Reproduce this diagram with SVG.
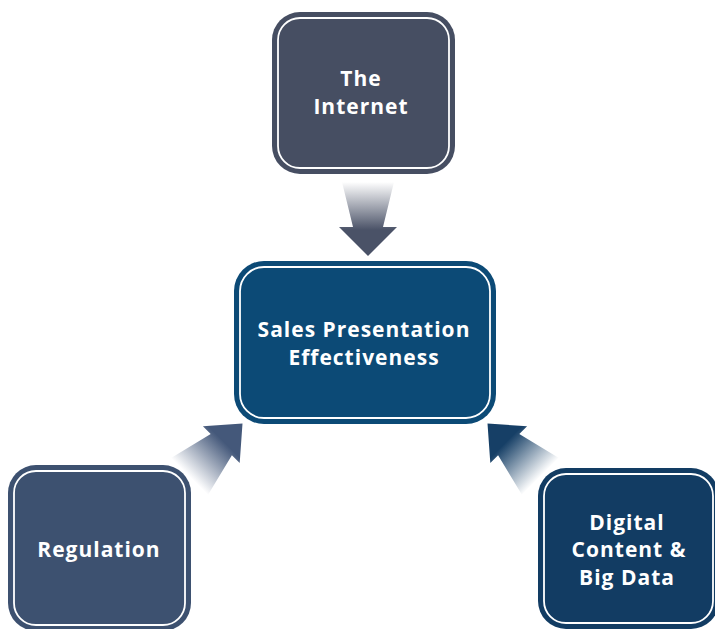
<svg xmlns="http://www.w3.org/2000/svg" width="715" height="629" viewBox="0 0 715 629">
  <style>
    .ring { fill: none; stroke: #ffffff; stroke-width: 1.8; }
    .label { font-family: "Open Sans", "Noto Sans", "Liberation Sans", sans-serif; font-weight: 700; font-size: 21px; letter-spacing: 1px; fill: #ffffff; text-anchor: middle; }
  </style>
  <defs>
    <linearGradient id="gradDown" gradientUnits="userSpaceOnUse" x1="368" y1="182" x2="368" y2="230">
      <stop offset="0" stop-color="#ffffff"/>
      <stop offset="1" stop-color="#4a5267"/>
    </linearGradient>
    <linearGradient id="gradUpRight" gradientUnits="userSpaceOnUse" x1="189.5" y1="476.5" x2="224" y2="442">
      <stop offset="0" stop-color="#ffffff"/>
      <stop offset="1" stop-color="#44587a"/>
    </linearGradient>
    <linearGradient id="gradUpLeft" gradientUnits="userSpaceOnUse" x1="540.5" y1="476.5" x2="506" y2="442">
      <stop offset="0" stop-color="#ffffff"/>
      <stop offset="1" stop-color="#163f66"/>
    </linearGradient>
  </defs>

  <g id="connectors">
    <polygon points="342,182 394,182 383,227 397,227 368,256 339,227 353,227" fill="url(#gradDown)"/>
    <polygon points="171.1,458.1 210.7,434.1 202.9,426.3 242.5,423.5 239.7,463.1 231.9,455.3 207.9,494.9" fill="url(#gradUpRight)"/>
    <polygon points="558.9,458.1 519.3,434.1 527.1,426.3 487.5,423.5 490.3,463.1 498.1,455.3 522.1,494.9" fill="url(#gradUpLeft)"/>
  </g>

  <g id="node-internet">
    <rect x="272" y="12" width="183" height="162" rx="28" fill="#464e62"/>
    <rect x="278" y="18" width="171" height="150" rx="22" class="ring"/>
    <text class="label" x="361" y="86">The</text>
    <text class="label" x="361" y="114">Internet</text>
  </g>

  <g id="node-sales">
    <rect x="234" y="261" width="262" height="163" rx="30" fill="#0c4a76"/>
    <rect x="240" y="267" width="250" height="151" rx="24" class="ring"/>
    <text class="label" x="364" y="337">Sales Presentation</text>
    <text class="label" x="364" y="365">Effectiveness</text>
  </g>

  <g id="node-regulation">
    <rect x="8" y="465" width="183" height="166" rx="28" fill="#3d5170"/>
    <rect x="14" y="471" width="171" height="154" rx="22" class="ring"/>
    <text class="label" x="99" y="557">Regulation</text>
  </g>

  <g id="node-digital">
    <rect x="538" y="468" width="181" height="161" rx="28" fill="#123c63"/>
    <rect x="544" y="474" width="169" height="149" rx="22" class="ring"/>
    <text class="label" x="627" y="530">Digital</text>
    <text class="label" x="629" y="557">Content &amp;</text>
    <text class="label" x="627" y="585">Big Data</text>
  </g>
</svg>
